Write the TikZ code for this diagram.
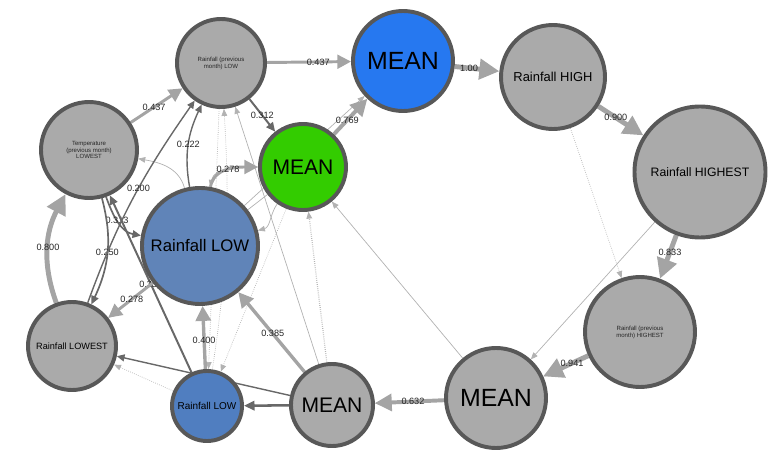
\documentclass[tikz,border=0pt]{standalone}
\usepackage{fontspec}
\setmainfont{Liberation Sans}
\usetikzlibrary{arrows.meta,backgrounds}
\definecolor{ndgray}{RGB}{170,170,170}
\definecolor{rimgray}{RGB}{88,88,88}
\definecolor{egray}{RGB}{164,164,164}
\definecolor{edark}{RGB}{104,104,104}
\definecolor{efaint}{RGB}{178,178,178}
\definecolor{meanblue}{RGB}{38,120,240}
\definecolor{meangreen}{RGB}{51,204,0}
\definecolor{lowblue}{RGB}{96,132,184}
\definecolor{lowbluetwo}{RGB}{80,126,192}

\begin{document}
\begin{tikzpicture}[x=0.025cm,y=-0.025cm,
	nd/.style={circle,draw=rimgray,line width=2.8pt,fill=ndgray,inner sep=0pt,align=center,minimum size=#1*0.025cm},
	smalltxt/.style={font=\fontsize{4.3}{4.9}\selectfont,text=black!85},
	lbl/.style={font=\fontsize{6.5}{7}\selectfont,inner sep=0.5pt,text=black!85},
	heavy/.style={draw=egray,line width=#1,-{Triangle[length=3pt 3.2,width=3pt 3.2]}},
	darkedge/.style={draw=edark,line width=#1,-{Triangle[length=3pt 2.5,width=3pt 2]}},
	faint/.style={draw=efaint,line width=0.5pt,-{Triangle[length=5pt,width=4pt]}},
	dotty/.style={faint,densely dotted}]
	\useasboundingbox (0,0) rectangle (783,465);
	\node[nd=96,smalltxt] (templ) at (89,150) {Temperature\\(previous month)\\LOWEST};
	\node[nd=88,smalltxt] (prevlow) at (221,63) {Rainfall (previous\\month) LOW};
	\node[nd=100,fill=meanblue,font=\fontsize{17.7}{20}\selectfont] (bluemean) at (403,61) {MEAN};
	\node[nd=104,font=\fontsize{9.2}{11}\selectfont] (rainhigh) at (553,77) {Rainfall HIGH};
	\node[nd=131,font=\fontsize{8.7}{10}\selectfont] (rainhighest) at (700,172) {Rainfall HIGHEST};
	\node[nd=86,fill=meangreen,font=\fontsize{15}{17}\selectfont] (greenmean) at (303,167) {MEAN};
	\node[nd=116,fill=lowblue,font=\fontsize{11.9}{14}\selectfont] (biglow) at (200,246) {Rainfall LOW};
	\node[nd=88,font=\fontsize{6.5}{8}\selectfont] (rainlowest) at (72,346) {Rainfall LOWEST};
	\node[nd=70,fill=lowbluetwo,font=\fontsize{7.1}{8}\selectfont] (smalllow) at (207,406) {Rainfall LOW};
	\node[nd=82,font=\fontsize{15}{17}\selectfont] (graymean) at (332,405) {MEAN};
	\node[nd=100,font=\fontsize{17.7}{20}\selectfont] (graymeantwo) at (496,398) {MEAN};
	\node[nd=110,smalltxt] (prevhighest) at (640,332) {Rainfall (previous\\month) HIGHEST};

	\begin{pgfonlayer}{background}
	\draw[faint] (biglow) -- (bluemean);
	\draw[faint] (biglow) to[out=105,in=-10] (templ);
	\draw[faint] (greenmean) to[out=235,in=15] (biglow);
	\draw[faint] (greenmean) to[out=180,in=80] (biglow);
	\draw[dotty] (greenmean) -- (smalllow);
	\draw[dotty] (prevlow) -- (smalllow);
	\draw[dotty] (smalllow) to[bend right=6] (prevlow);
	\draw[faint] (graymean) -- (prevlow);
	\draw[dotty,line width=0.9pt] (graymean) -- (greenmean);
	\draw[faint] (graymeantwo) -- (greenmean);
	\draw[dotty] (rainhigh) -- (prevhighest);
	\draw[faint] (rainhighest) -- (graymeantwo);
	\draw[dotty] (prevhighest) -- (graymeantwo);
	\draw[dotty] (graymeantwo) -- (graymean);
	\draw[dotty] (smalllow) -- (rainlowest);
	\draw[faint] (greenmean) -- (rainlowest);

	\draw[darkedge=1.4pt] (prevlow) -- (greenmean) node[lbl,pos=0.5] {0.312};
	\draw[darkedge=1.2pt] (templ) to[out=290,in=170] node[lbl,pos=0.45] {0.313} (biglow);
	\draw[darkedge=1.2pt] (templ) to[out=285,in=65] node[lbl,pos=0.5] {0.250} (rainlowest);
	\draw[darkedge=1.4pt] (smalllow) -- (templ) node[lbl,pos=0.5] {0.333};
	\draw[darkedge=1pt] (rainlowest) to[out=70,in=235] node[lbl,pos=0.55] {0.200} (prevlow);
	\draw[darkedge=1pt] (biglow) to[out=100,in=245] node[lbl,pos=0.5] {0.222} (prevlow);
	\draw[darkedge=1.8pt] (graymean) -- (smalllow);
	\draw[darkedge=1pt] (graymean) -- (rainlowest);

	\draw[heavy=2.1pt] (prevlow) -- (bluemean) node[lbl,pos=0.61] {0.437};
	\draw[heavy=2.1pt] (templ) -- (prevlow) node[lbl,pos=0.45] {0.437};
	\draw[heavy=2.8pt] (greenmean) -- (bluemean) node[lbl,pos=0.4] {0.769};
	\draw[heavy=3.5pt] (bluemean) -- (rainhigh) node[lbl,pos=0.32] {1.00};
	\draw[heavy=3.5pt] (rainhigh) -- (rainhighest) node[lbl,pos=0.39] {0.900};
	\draw[heavy=3.5pt] (rainhighest) -- (prevhighest) node[lbl,pos=0.39] {0.833};
	\draw[heavy=3.5pt] (prevhighest) -- (graymeantwo) node[lbl,pos=0.36] {0.941};
	\draw[heavy=2.8pt] (graymeantwo) -- (graymean) node[lbl,pos=0.45] {0.632};
	\draw[heavy=2.4pt] (smalllow) -- (biglow) node[lbl,pos=0.46] {0.400};
	\draw[heavy=2.4pt] (graymean) -- (biglow) node[lbl,pos=0.48] {0.385};
	\draw[heavy=3.5pt] (rainlowest) to[out=110,in=242] node[lbl,pos=0.5] {0.800} (templ);
	\draw[heavy=2.1pt] (biglow) -- (rainlowest) node[lbl,pos=0.47] {0.278};
	\draw[heavy=2.1pt] (biglow) to[out=80,in=180] node[lbl,pos=0.5] {0.278} (greenmean);
	\end{pgfonlayer}
\end{tikzpicture}
\end{document}
